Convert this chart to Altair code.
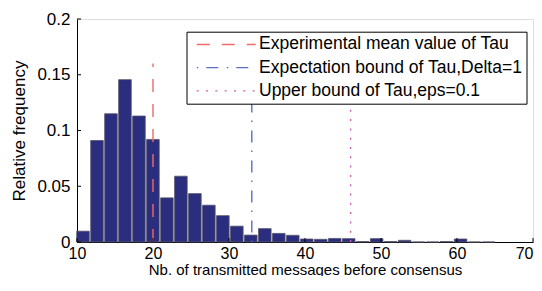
import altair as alt
import pandas as pd

# Histogram bins (centres) and relative frequencies
bin_centers = [10.79, 12.63, 14.47, 16.31, 18.15, 19.99, 21.83, 23.67, 25.51, 27.35,
               29.19, 31.03, 32.87, 34.71, 36.55, 38.39, 40.23, 42.07, 43.91, 45.75,
               47.59, 49.43, 51.27, 53.11, 54.95, 56.79, 58.63, 60.47, 62.31, 64.15]
rel_freq = [0.0097, 0.091, 0.115, 0.1456, 0.113, 0.092, 0.0396, 0.059, 0.0434, 0.033,
            0.0236, 0.0142, 0.0062, 0.012, 0.0077, 0.006, 0.0027, 0.0024, 0.0032, 0.003,
            0.0004, 0.003, 0.0004, 0.0015, 0.0, 0.0, 0.0004, 0.0027, 0.0, 0.0]

# Vertical reference lines
line_names = ["Experimental mean value of Tau",
              "Expectation bound of Tau,Delta=1",
              "Upper bound of Tau,eps=0.1"]
line_x = [20, 33, 46]
line_top = [0.16, 0.16, 0.16]
line_colors = ["#f06a6a", "#5b6ec4", "#cc5fb6"]
line_dashes = [[13, 12], [1.5, 8, 12, 8.5], [2, 7.3]]

x_ticks = [10, 20, 30, 40, 50, 60, 70]
y_ticks = [0, 0.05, 0.1, 0.15, 0.2]

W, H = 456, 223
FONT = "Liberation Sans"

bars_df = pd.DataFrame({"center": bin_centers, "freq": rel_freq})
lines_df = pd.DataFrame({"name": line_names, "x": line_x,
                         "y0": [0.0] * 3, "y1": line_top})
xt_df = pd.DataFrame({"t": x_ticks})
yt_df = pd.DataFrame({"t": y_ticks})

xscale = alt.Scale(domain=[10, 70], nice=False, zero=False, padding=0)
yscale = alt.Scale(domain=[0, 0.2], nice=False, zero=True)

x_axis = alt.Axis(values=x_ticks, tickSize=0, labelPadding=3.5, grid=False,
                  domainColor="black", domainWidth=1, labelColor="black",
                  labelFont=FONT, labelFontSize=16, titleFont=FONT,
                  titleFontSize=15, titleFontWeight="normal", titleColor="black",
                  titlePadding=0.5, labelFlush=False, format="d",
                  labelAlign={"condition": {"test": "datum.value == 70", "value": "right"},
                              "value": "center"})
y_axis = alt.Axis(values=y_ticks, tickSize=0, labelPadding=7, grid=False,
                  domainColor="black", domainWidth=1, labelColor="black",
                  labelFont=FONT, labelFontSize=17, titleFont=FONT,
                  titleFontSize=17, titleFontWeight="normal", titleColor="black",
                  titlePadding=8, format="~g", labelFlush=False)

bars = alt.Chart(bars_df).mark_bar(
    size=12.6, fill="#2b2d7e", stroke="#55556a", strokeWidth=0.8
).encode(
    x=alt.X("center:Q", scale=xscale, axis=x_axis,
            title="Nb. of transmitted messages before consensus"),
    y=alt.Y("freq:Q", scale=yscale, axis=y_axis, title="Relative frequency"),
)

legend = alt.Legend(
    title=None, orient="none", legendX=109.5, legendY=12.7,
    direction="vertical", symbolType="M-5,0H5", symbolSize=139,
    symbolStrokeWidth=1.4, labelFont=FONT, labelFontSize=17.5, labelColor="black",
    labelOffset=24, padding=4, symbolOffset=27, rowPadding=4.2,
    strokeColor="black", fillColor="white", labelLimit=400,
    labelExpr="datum.label + '\u00a0'",
)

rules = alt.Chart(lines_df).mark_rule(strokeWidth=1.4).encode(
    x=alt.X("x:Q", scale=xscale),
    y=alt.Y("y0:Q", scale=yscale),
    y2="y1:Q",
    color=alt.Color("name:N", sort=line_names,
                    scale=alt.Scale(domain=line_names, range=line_colors),
                    legend=legend),
    strokeDash=alt.StrokeDash("name:N", sort=line_names,
                              scale=alt.Scale(domain=line_names, range=line_dashes),
                              legend=legend),
)

xticks = alt.Chart(xt_df).mark_rule(color="black", strokeWidth=1).encode(
    x=alt.X("t:Q", scale=xscale), y=alt.value(H), y2=alt.value(H - 4))
yticks = alt.Chart(yt_df).mark_rule(color="black", strokeWidth=1).encode(
    y=alt.Y("t:Q", scale=yscale), x=alt.value(0), x2=alt.value(4))

chart = alt.layer(bars, rules, xticks, yticks).properties(
    width=W, height=H,
    autosize=alt.AutoSizeParams(type="none"),
    padding={"left": 69, "top": 11, "right": 1, "bottom": 34},
).configure_view(stroke=None).configure(background="white")

chart.save("out.html", embed_options={"renderer": "svg", "actions": False})
